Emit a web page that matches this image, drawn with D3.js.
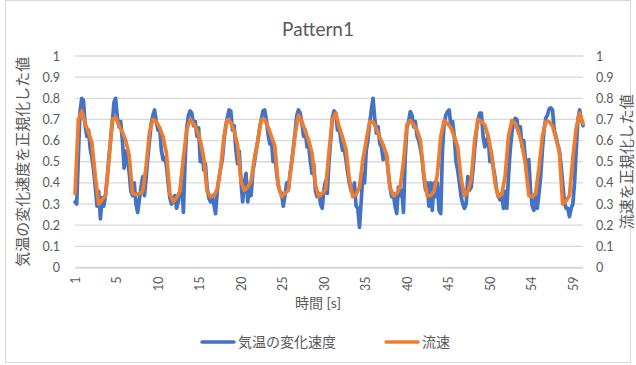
<!DOCTYPE html>
<html>
<head>
<meta charset="utf-8">
<script src="https://cdn.jsdelivr.net/npm/d3@7"></script>
<style>
  body { margin: 0; background: #fff; }
  svg text { font-family: Lato, "Noto Sans CJK JP", sans-serif; fill: #595959; }
</style>
</head>
<body>
<svg id="chart" width="636" height="365"></svg>
<script>
// Titles and tick labels
const chartTitle = "Pattern1";
const xTitle = "時間 [s]";
const yTitleLeft = "気温の変化速度を正規化した値";
const yTitleRight = "流速を正規化した値";
const seriesNames = ["気温の変化速度", "流速"];
const yTicks = [0, 0.1, 0.2, 0.3, 0.4, 0.5, 0.6, 0.7, 0.8, 0.9, 1];
const yTickLabels = ["0", "0.1", "0.2", "0.3", "0.4", "0.5", "0.6", "0.7", "0.8", "0.9", "1"];
const xTickTimes = [1, 5.9, 10.8, 15.7, 20.6, 25.5, 30.4, 35.3, 40.2, 45.1, 50.0, 54.9, 59.8];
const xTickLabels = ["1", "5", "10", "15", "20", "25", "30", "35", "40", "45", "50", "54", "59"];

// 気温の変化速度 (normalised), sampled every 0.2 s from t = 1 s
const tempStart = 1, tempStep = 0.2;
const tempRate = [
  0.31,0.30,0.53,0.74,0.80,0.79,0.67,0.62,0.65,0.56,
  0.52,0.46,0.38,0.29,0.36,0.23,0.33,0.29,0.34,0.42,
  0.52,0.60,0.68,0.78,0.80,0.71,0.665,0.69,0.60,0.47,
  0.55,0.51,0.45,0.36,0.34,0.40,0.30,0.26,0.32,0.38,
  0.43,0.34,0.42,0.52,0.60,0.68,0.72,0.745,0.69,0.65,
  0.66,0.555,0.51,0.52,0.48,0.40,0.33,0.30,0.31,0.34,
  0.28,0.31,0.36,0.43,0.26,0.50,0.66,0.72,0.74,0.73,
  0.67,0.69,0.62,0.66,0.50,0.56,0.46,0.49,0.38,0.33,
  0.31,0.34,0.30,0.255,0.36,0.42,0.47,0.51,0.60,0.67,
  0.71,0.745,0.74,0.65,0.67,0.555,0.49,0.55,0.41,0.31,
  0.40,0.445,0.31,0.38,0.34,0.45,0.50,0.555,0.60,0.66,
  0.70,0.74,0.745,0.70,0.63,0.585,0.60,0.50,0.54,0.45,
  0.39,0.36,0.35,0.29,0.34,0.40,0.37,0.445,0.50,0.57,
  0.64,0.72,0.745,0.73,0.68,0.62,0.65,0.57,0.58,0.50,
  0.445,0.49,0.36,0.335,0.35,0.30,0.28,0.37,0.41,0.35,
  0.50,0.60,0.71,0.74,0.73,0.65,0.665,0.60,0.555,0.56,
  0.51,0.45,0.40,0.366,0.35,0.40,0.29,0.28,0.19,0.31,
  0.445,0.40,0.555,0.60,0.68,0.745,0.80,0.705,0.635,0.665,
  0.585,0.57,0.51,0.555,0.53,0.45,0.38,0.335,0.35,0.29,
  0.255,0.38,0.34,0.366,0.26,0.52,0.66,0.69,0.737,0.72,
  0.665,0.69,0.62,0.60,0.56,0.51,0.43,0.366,0.40,0.29,
  0.40,0.27,0.40,0.335,0.40,0.27,0.255,0.555,0.68,0.72,
  0.737,0.745,0.665,0.69,0.62,0.50,0.46,0.40,0.335,0.30,
  0.28,0.30,0.43,0.366,0.38,0.46,0.555,0.64,0.70,0.73,
  0.73,0.62,0.57,0.60,0.62,0.50,0.52,0.475,0.43,0.366,
  0.335,0.32,0.35,0.28,0.36,0.28,0.43,0.555,0.635,0.69,
  0.705,0.70,0.635,0.665,0.57,0.60,0.51,0.43,0.51,0.366,
  0.29,0.27,0.335,0.28,0.35,0.43,0.555,0.65,0.705,0.72,
  0.75,0.755,0.745,0.65,0.62,0.585,0.555,0.49,0.40,0.31,
  0.28,0.28,0.24,0.28,0.30,0.40,0.555,0.70,0.745,0.70,
  0.67
];

// 流速 (normalised), sampled every 0.4 s from t = 1 s
const flowStart = 1, flowStep = 0.4;
const flowSpeed = [
  0.35,0.70,0.74,0.68,0.64,0.59,0.43,0.30,0.32,0.34,
  0.50,0.70,0.71,0.67,0.64,0.60,0.53,0.35,0.345,0.35,
  0.36,0.48,0.64,0.70,0.69,0.66,0.62,0.54,0.35,0.31,
  0.33,0.36,0.52,0.65,0.70,0.68,0.65,0.60,0.52,0.36,
  0.335,0.34,0.37,0.47,0.62,0.70,0.685,0.645,0.58,0.41,
  0.365,0.38,0.41,0.52,0.60,0.70,0.70,0.665,0.62,0.575,
  0.39,0.335,0.35,0.365,0.50,0.63,0.72,0.69,0.645,0.60,
  0.54,0.39,0.335,0.35,0.37,0.55,0.70,0.73,0.665,0.615,
  0.56,0.42,0.335,0.345,0.38,0.51,0.60,0.69,0.69,0.655,
  0.615,0.58,0.53,0.38,0.34,0.35,0.38,0.50,0.675,0.695,
  0.675,0.65,0.60,0.44,0.34,0.34,0.36,0.44,0.62,0.695,
  0.68,0.66,0.62,0.57,0.42,0.34,0.36,0.42,0.60,0.70,
  0.69,0.675,0.62,0.54,0.40,0.335,0.345,0.43,0.62,0.695,
  0.68,0.64,0.58,0.49,0.34,0.335,0.35,0.47,0.62,0.69,
  0.69,0.67,0.61,0.55,0.30,0.315,0.34,0.52,0.66,0.73,
  0.68
];

const colors = ["#4472C4", "#ED7D31"];

const svg = d3.select("#chart");
const W = 636, H = 365;
const plot = { left: 75, right: 583, top: 56, bottom: 267.5 };

// Chart-area frame
svg.append("rect")
  .attr("x", 5.5).attr("y", 0.5).attr("width", W - 11).attr("height", H - 3)
  .attr("fill", "#fff").attr("stroke", "#d9d9d9").attr("stroke-width", 1);

const x = d3.scaleLinear().domain([1, 61]).range([plot.left, plot.right]);
const y = d3.scaleLinear().domain([0, 1]).range([plot.bottom, plot.top]);

// Horizontal gridlines
svg.append("g")
  .selectAll("line").data(yTicks).join("line")
  .attr("x1", plot.left).attr("x2", plot.right)
  .attr("y1", d => y(d)).attr("y2", d => y(d))
  .attr("stroke", "#d9d9d9").attr("stroke-width", 1.3);

// Left value axis
const leftAxis = svg.append("g")
  .attr("transform", `translate(${plot.left},0)`)
  .call(d3.axisLeft(y).tickValues(yTicks).tickFormat((d, i) => yTickLabels[i]).tickSize(0).tickPadding(15));
leftAxis.select(".domain").remove();
leftAxis.selectAll("text").style("font-size", "12.5px").attr("fill", "#595959");

// Right value axis
const rightAxis = svg.append("g")
  .attr("transform", `translate(${plot.right},0)`)
  .call(d3.axisRight(y).tickValues(yTicks).tickFormat((d, i) => yTickLabels[i]).tickSize(0).tickPadding(13));
rightAxis.select(".domain").remove();
rightAxis.selectAll("text").style("font-size", "12.5px").attr("fill", "#595959");

// Time axis, labels rotated
const bottomAxis = svg.append("g")
  .attr("transform", `translate(0,${plot.bottom})`)
  .call(d3.axisBottom(x).tickValues(xTickTimes).tickFormat((d, i) => xTickLabels[i]).tickSize(0));
bottomAxis.select(".domain").attr("stroke", "#d9d9d9").attr("stroke-width", 1.3);
bottomAxis.selectAll("text")
  .style("font-size", "12.5px").attr("fill", "#595959")
  .attr("text-anchor", "end")
  .attr("dy", "0.35em")
  .attr("transform", "translate(0,9) rotate(-90)")
  .attr("x", 0).attr("y", 0);

// Series lines
const tempPts = tempRate.map((v, i) => [tempStart + i * tempStep, v]);
const flowPts = flowSpeed.map((v, i) => [flowStart + i * flowStep, v]);
const line = d3.line().x(d => x(d[0])).y(d => y(d[1]));

svg.append("path").datum(tempPts)
  .attr("d", line).attr("fill", "none")
  .attr("stroke", colors[0]).attr("stroke-width", 3.7)
  .attr("stroke-linejoin", "round").attr("stroke-linecap", "round");
svg.append("path").datum(flowPts)
  .attr("d", line).attr("fill", "none")
  .attr("stroke", colors[1]).attr("stroke-width", 3.7)
  .attr("stroke-linejoin", "round").attr("stroke-linecap", "round");

// Title
svg.append("text").attr("x", W / 2).attr("y", 36)
  .attr("text-anchor", "middle").style("font-size", "19px").text(chartTitle);

// Axis titles
svg.append("text").attr("x", 318).attr("y", 308)
  .attr("text-anchor", "middle").style("font-size", "14px").text(xTitle);
svg.append("text")
  .attr("transform", `translate(28,${(plot.top + plot.bottom) / 2}) rotate(-90)`)
  .attr("text-anchor", "middle").style("font-size", "15px").text(yTitleLeft);
svg.append("text")
  .attr("transform", `translate(632,${(plot.top + plot.bottom) / 2}) rotate(-90)`)
  .attr("text-anchor", "middle").style("font-size", "15px").text(yTitleRight);

// Legend
const legend = svg.append("g");
const legendItems = [
  { name: seriesNames[0], color: colors[0], x: 202 },
  { name: seriesNames[1], color: colors[1], x: 386 }
];
legendItems.forEach(it => {
  legend.append("line")
    .attr("x1", it.x).attr("x2", it.x + 32)
    .attr("y1", 342).attr("y2", 342)
    .attr("stroke", it.color).attr("stroke-width", 3.5).attr("stroke-linecap", "round");
  legend.append("text").attr("x", it.x + 36).attr("y", 342).attr("dy", "0.35em")
    .style("font-size", "14px").text(it.name);
});
</script>
</body>
</html>
